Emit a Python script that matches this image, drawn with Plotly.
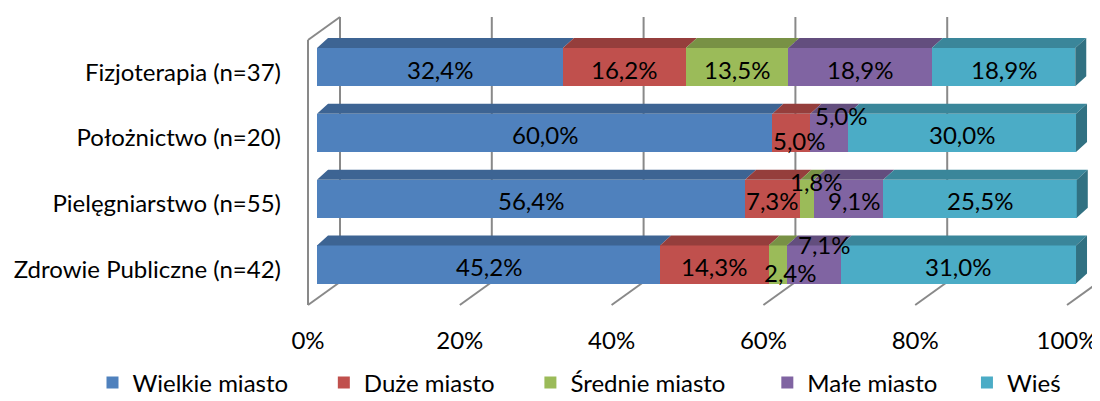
import plotly.graph_objects as go

# ── data ──────────────────────────────────────────────────────────────
categories = ["Fizjoterapia (n=37)", "Położnictwo (n=20)",
              "Pielęgniarstwo (n=55)", "Zdrowie Publiczne (n=42)"]
series = ["Wielkie miasto", "Duże miasto", "Średnie miasto", "Małe miasto", "Wieś"]
wielkie = [32.4, 60.0, 56.4, 45.2]
duze = [16.2, 5.0, 7.3, 14.3]
srednie = [13.5, 0.0, 1.8, 2.4]
male = [18.9, 5.0, 9.1, 7.1]
wies = [18.9, 30.0, 25.5, 31.0]
values = [wielkie, duze, srednie, male, wies]
ticks = [0, 20, 40, 60, 80, 100]

# ── style ─────────────────────────────────────────────────────────────
FONT = "Lato"
FS = 24
colors = ["#4F81BD", "#C0504D", "#9BBB59", "#8064A2", "#4BACC6"]
GRID = "#898989"
BAR_W = 0.58
# oblique 3-D offsets in axis units
BAR_DX, BAR_DY = 1.45, 0.152
FRONT_DX = -1.186
BACK_DX = 3.03
FLOOR_FRONT, FLOOR_BACK = -0.6155, -0.266
TOP_FRONT, TOP_BACK = 3.412, 3.761
# manual nudges for crowded labels (px): (category, series) -> (dx, dy)
nudge = {(1, 1): (8, 6), (1, 3): (12, -19), (2, 2): (9, -19), (2, 3): (6, 0),
         (3, 2): (13, 6), (3, 3): (11, -22)}
# trailing no-break spaces to spread legend entries like the original
LEG_PAD_N = [5, 5, 6, 4, 0]
# the page body has an 8px margin, so the figure is 8px smaller each way
W, H = 1092, 393


def shade(hex_color, k):
    r, g, b = (int(hex_color[i:i + 2], 16) for i in (1, 3, 5))
    return f"rgb({int(r * k)},{int(g * k)},{int(b * k)})"


ypos = [len(categories) - 1 - i for i in range(len(categories))]

fig = go.Figure()

# front faces
for s, name in enumerate(series):
    fig.add_trace(go.Bar(
        y=ypos, x=values[s], name=name + "\u00a0" * LEG_PAD_N[s],
        orientation="h", width=BAR_W,
        marker=dict(color=colors[s], line=dict(width=0)),
        hovertemplate="%{x:.1f}%<extra>" + name + "</extra>",
    ))

# top faces + right side face
cum = [[0.0] * len(categories)]
for s in range(len(series)):
    cum.append([cum[-1][i] + values[s][i] for i in range(len(categories))])

for s in range(len(series)):
    xs, ys = [], []
    for i, c in enumerate(ypos):
        x0, x1 = cum[s][i], cum[s + 1][i]
        if x1 - x0 <= 0:
            continue
        yt = c + BAR_W / 2
        xs += [x0, x1, x1 + BAR_DX, x0 + BAR_DX, x0, None]
        ys += [yt, yt, yt + BAR_DY, yt + BAR_DY, yt, None]
    fig.add_trace(go.Scatter(x=xs, y=ys, mode="lines", fill="toself",
                             fillcolor=shade(colors[s], 0.78),
                             line=dict(width=0, color=shade(colors[s], 0.78)),
                             showlegend=False, hoverinfo="skip"))

xs, ys = [], []
for i, c in enumerate(ypos):
    xe = cum[-1][i]
    yb, yt = c - BAR_W / 2, c + BAR_W / 2
    xs += [xe, xe, xe + BAR_DX, xe + BAR_DX, xe, None]
    ys += [yb, yt, yt + BAR_DY, yb + BAR_DY, yb, None]
fig.add_trace(go.Scatter(x=xs, y=ys, mode="lines", fill="toself",
                         fillcolor=shade(colors[-1], 0.66),
                         line=dict(width=0, color=shade(colors[-1], 0.66)),
                         showlegend=False, hoverinfo="skip"))

# walls and gridlines
shapes = []
line = dict(color=GRID, width=2)
for v in ticks:
    shapes.append(dict(type="line", layer="below", xref="x", yref="y",
                       x0=v + BACK_DX, x1=v + BACK_DX, y0=FLOOR_BACK, y1=TOP_BACK, line=line))
    shapes.append(dict(type="line", layer="below", xref="x", yref="y",
                       x0=v + FRONT_DX, x1=v + BACK_DX, y0=FLOOR_FRONT, y1=FLOOR_BACK, line=line))
shapes.append(dict(type="line", layer="below", xref="x", yref="y",
                   x0=FRONT_DX, x1=FRONT_DX, y0=FLOOR_FRONT, y1=TOP_FRONT, line=line))
shapes.append(dict(type="line", layer="below", xref="x", yref="y",
                   x0=FRONT_DX, x1=BACK_DX, y0=TOP_FRONT, y1=TOP_BACK, line=line))

# data labels
annotations = []
for s in range(len(series)):
    for i, c in enumerate(ypos):
        v = values[s][i]
        if v <= 0:
            continue
        dx, dy = nudge.get((i, s), (0, 0))
        annotations.append(dict(
            x=(cum[s][i] + cum[s + 1][i]) / 2, y=c, xref="x", yref="y",
            text=f"{v:.1f}".replace(".", ",") + "%", showarrow=False,
            xshift=dx, yshift=-2 - dy, font=dict(size=FS, color="#000000", family=FONT),
        ))

fig.update_layout(
    barmode="stack",
    width=W, height=H,
    margin=dict(l=277, r=0, t=2, b=88, autoexpand=False),
    paper_bgcolor="#ffffff", plot_bgcolor="#ffffff",
    font=dict(family=FONT, size=FS, color="#000000"),
    shapes=shapes, annotations=annotations,
    xaxis=dict(range=[-4.216, 103.16], tickvals=ticks, automargin=False,
               ticktext=[f"{t}%" for t in ticks], showgrid=False, zeroline=False,
               showline=False, ticks="", ticklabelshift=-9, ticklabelstandoff=11),
    yaxis=dict(range=[-0.737, 3.868], tickvals=ypos, ticktext=categories,
               automargin=False, showgrid=False, zeroline=False, showline=False,
               ticks="", ticklabelshift=5, ticklabelstandoff=3),
    legend=dict(orientation="h", xref="paper", yref="paper",
                x=-0.2362, xanchor="left", y=-0.231, yanchor="middle",
                font=dict(size=FS), traceorder="normal"),
    showlegend=True,
)

fig.write_html("out.html")
